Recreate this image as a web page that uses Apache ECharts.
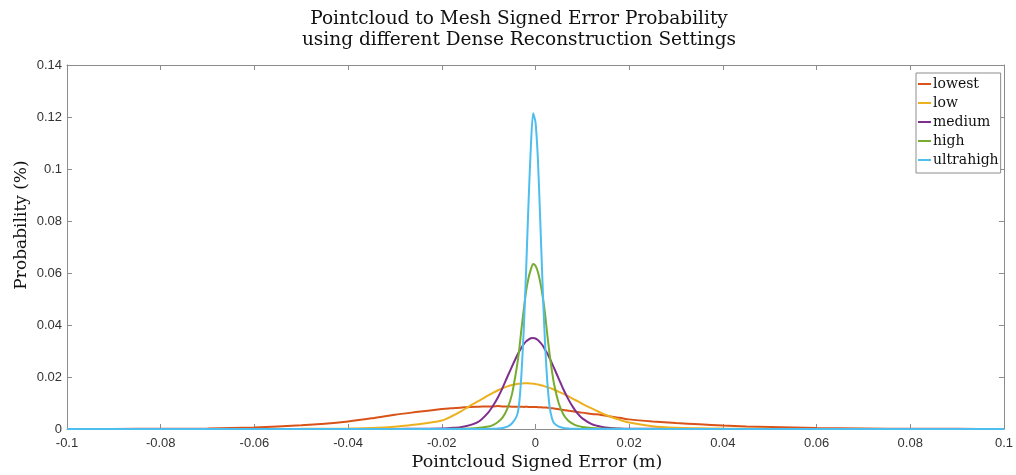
<!DOCTYPE html>
<html>
<head>
<meta charset="utf-8">
<script src="https://cdn.jsdelivr.net/npm/echarts@6/dist/echarts.min.js"></script>
<style>
  html, body { margin: 0; padding: 0; background: #fff; overflow: hidden; }
  #chart { width: 1016px; height: 475px; }
</style>
</head>
<body>
<div id="chart"></div>
<script>
// Signed error (m) sample positions shared by every curve
const errorX = [-0.1,-0.09,-0.08,-0.07,-0.06,-0.05,-0.045,-0.04,-0.035,-0.03,-0.025,-0.02,
  -0.018,-0.016,-0.014,-0.012,-0.01,-0.009,-0.008,-0.007,-0.006,-0.005,
  -0.004,-0.0035,-0.003,-0.0025,-0.002,-0.0015,-0.001,-0.0005,0,
  0.0005,0.001,0.0015,0.002,0.0025,0.003,0.0035,0.004,
  0.005,0.006,0.007,0.008,0.009,0.01,0.012,0.014,0.016,0.018,0.02,
  0.025,0.03,0.035,0.04,0.045,0.05,0.06,0.07,0.08,0.09,0.1];

// Probability per reconstruction setting
const lowest = [0.00002,0.00004,0.0001,0.0002,0.0006,0.0014,0.0020,0.0029,0.0041,0.0055,0.0066,0.0077,
  0.0080,0.0082,0.0085,0.0086,0.0087,0.0087,0.0088,0.0087,0.0087,0.0086,
  0.0086,0.0086,0.0086,0.0085,0.0086,0.0085,0.0085,0.0085,0.0085,
  0.0084,0.0084,0.0083,0.0083,0.0082,0.0081,0.0080,0.0079,
  0.0076,0.0073,0.0070,0.0068,0.0065,0.0063,0.0058,0.0054,0.0048,0.0043,0.0037,
  0.0029,0.0023,0.0018,0.0013,0.0010,0.0008,0.0004,0.0002,0.0001,0.00005,0.00003];

const low = [0,0,0,0.00001,0.00002,0.00005,0.0001,0.0002,0.0004,0.0009,0.0018,0.0033,
  0.0048,0.0067,0.0089,0.0109,0.0130,0.0140,0.0149,0.0157,0.0164,0.0169,
  0.0173,0.0174,0.0175,0.0176,0.0176,0.0176,0.0175,0.0174,0.0173,
  0.0171,0.0169,0.0167,0.0164,0.0161,0.0158,0.0155,0.0151,
  0.0143,0.0135,0.0126,0.0116,0.0107,0.0097,0.0079,0.0062,0.0047,0.0035,0.0025,
  0.0011,0.0005,0.0003,0.00015,0.0001,0.00005,0.00002,0.00001,0,0,0];

const medium = [0,0,0,0,0,0,0,0.00001,0.00002,0.00004,0.0001,0.0002,
  0.0004,0.0007,0.0015,0.0030,0.0065,0.0091,0.0122,0.0159,0.0201,0.0241,
  0.0280,0.0297,0.0313,0.0326,0.0337,0.0344,0.0349,0.0350,0.0348,
  0.0342,0.0333,0.0322,0.0307,0.0291,0.0273,0.0253,0.0233,
  0.0192,0.0151,0.0115,0.0084,0.0059,0.0041,0.0019,0.0009,0.0004,0.0002,0.0001,
  0.00005,0.00002,0.00001,0,0,0,0,0,0,0,0];

const high = [0,0,0,0,0,0,0,0,0,0,0,0.00002,
  0.00005,0.0001,0.0002,0.0005,0.0010,0.0016,0.0027,0.0045,0.0078,0.0135,
  0.0236,0.0300,0.0384,0.0460,0.0530,0.0580,0.0613,0.0635,0.0628,
  0.0605,0.0566,0.0513,0.0450,0.0366,0.0290,0.0225,0.0170,
  0.0097,0.0055,0.0032,0.0020,0.0012,0.0008,0.0004,0.0002,0.0001,0.00005,0.00002,
  0,0,0,0,0,0,0,0,0,0,0];

const ultrahigh = [0,0,0,0,0,0,0,0,0,0,0,0,
  0,0,0,0.00002,0.00005,0.0001,0.0002,0.0004,0.0009,0.0022,
  0.0050,0.0095,0.0210,0.0384,0.0610,0.0862,0.1080,0.1214,0.1180,
  0.1043,0.0812,0.0562,0.0345,0.0188,0.0088,0.0042,0.0022,
  0.0009,0.0004,0.0002,0.0001,0.00005,0.00002,0,0,0,0,0,
  0,0,0,0,0,0,0,0,0,0,0];

const seriesNames = ['lowest', 'low', 'medium', 'high', 'ultrahigh'];
const seriesValues = [lowest, low, medium, high, ultrahigh];
const seriesColors = ['#D95319', '#EDB120', '#7E2F8E', '#77AC30', '#4DBEEE'];

const axisColor = '#8c8c8c';
const tickText = { color: '#333', fontFamily: 'Liberation Sans, Arial, sans-serif', fontSize: 13 };
const serif = 'DejaVu Serif, serif';

function fmt(v) { return String(Number(v.toFixed(3))); }

const chart = echarts.init(document.getElementById('chart'), null, { renderer: 'canvas' });

const axisBase = {
  type: 'value',
  axisLine: { show: true, onZero: false, lineStyle: { color: axisColor, width: 1 } },
  axisTick: { show: true, inside: true, length: 5, lineStyle: { color: axisColor } },
  splitLine: { show: false }
};

chart.setOption({
  animation: false,
  backgroundColor: '#fff',
  title: {
    text: 'Pointcloud to Mesh Signed Error Probability\nusing different Dense Reconstruction Settings',
    left: 514, top: 4, textAlign: 'center',
    textStyle: { fontFamily: serif, fontWeight: 'normal', fontSize: 18.5, lineHeight: 21, color: '#111' }
  },
  grid: { left: 67, right: 8, top: 65, bottom: 46, containLabel: false },
  legend: {
    data: seriesNames,
    orient: 'vertical',
    left: 916, top: 73,
    icon: 'rect', itemWidth: 13, itemHeight: 2, itemGap: 5,
    padding: [4, 2, 6, 2],
    backgroundColor: '#fff', borderColor: axisColor, borderWidth: 1,
    textStyle: { fontFamily: serif, fontSize: 14, lineHeight: 14, color: '#111', padding: [0, 0, 0, -3] }
  },
  xAxis: [
    Object.assign({}, axisBase, {
      min: -0.1, max: 0.1, interval: 0.02, position: 'bottom',
      axisLabel: Object.assign({ margin: 8, formatter: fmt }, tickText)
    }),
    Object.assign({}, axisBase, {
      min: -0.1, max: 0.1, interval: 0.02, position: 'top',
      axisLabel: { show: false }
    })
  ],
  yAxis: [
    Object.assign({}, axisBase, {
      min: 0, max: 0.14, interval: 0.02, position: 'left',
      axisLabel: Object.assign({ margin: 5, formatter: fmt }, tickText)
    }),
    Object.assign({}, axisBase, {
      min: 0, max: 0.14, interval: 0.02, position: 'right',
      axisLabel: { show: false }
    })
  ],
  graphic: [
    {
      type: 'text', x: 537, y: 462,
      style: { text: 'Pointcloud Signed Error (m)', font: '17.5px ' + serif, fill: '#111', textAlign: 'center', textVerticalAlign: 'middle' }
    },
    {
      type: 'text', x: 22, y: 225, rotation: Math.PI / 2,
      style: { text: 'Probability (%)', font: '17px ' + serif, fill: '#111', textAlign: 'center', textVerticalAlign: 'middle' }
    }
  ],
  series: seriesNames.map((name, i) => ({
    name: name,
    type: 'line',
    xAxisIndex: 0, yAxisIndex: 0,
    data: errorX.map((x, j) => [x, seriesValues[i][j]]),
    showSymbol: false,
    symbol: 'none',
    smooth: 0.25,
    lineStyle: { color: seriesColors[i], width: 2 },
    itemStyle: { color: seriesColors[i] },
    z: 2 + i
  }))
});
</script>
</body>
</html>
